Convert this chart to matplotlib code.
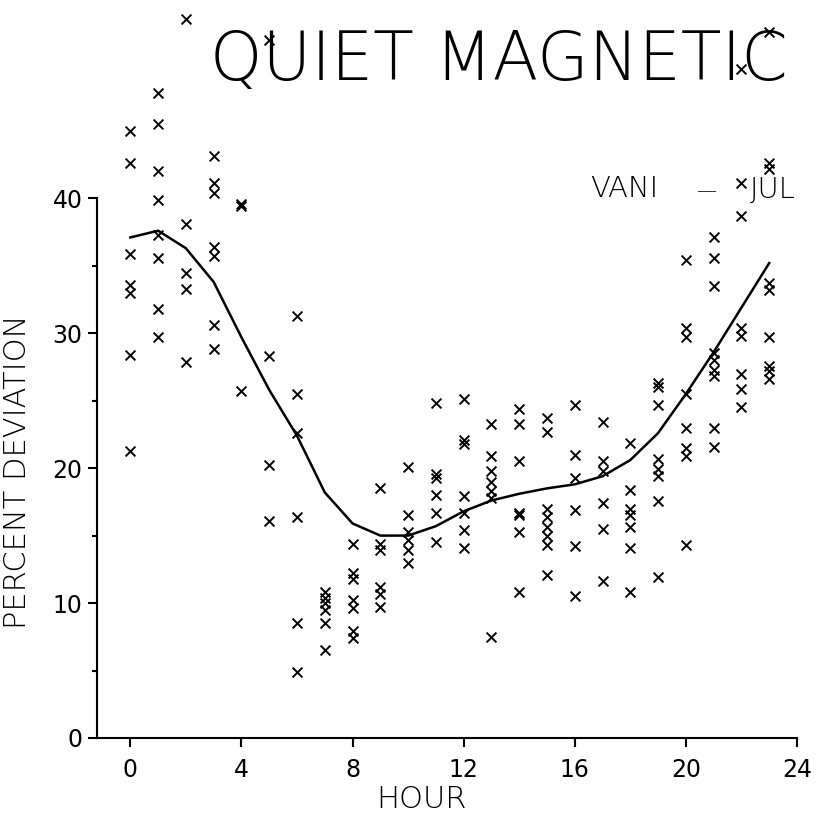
import matplotlib.pyplot as plt
from matplotlib.ticker import FixedLocator, MultipleLocator

# scatter values, one list per hour
pts = {
    0: [45.0, 42.6, 35.9, 33.6, 33.0, 28.4, 21.3],
    1: [47.8, 45.5, 42.0, 39.9, 37.3, 35.6, 31.8, 29.7],
    2: [53.3, 38.1, 34.5, 33.3, 27.9],
    3: [43.1, 41.1, 40.4, 36.4, 35.7, 30.6, 28.8],
    4: [39.6, 39.4, 25.7],
    5: [51.7, 28.3, 20.2, 16.1],
    6: [31.3, 25.5, 22.6, 16.4, 8.5, 4.9],
    7: [10.8, 10.4, 10.0, 9.5, 8.5, 6.5],
    8: [14.4, 12.2, 11.8, 10.2, 9.6, 7.9, 7.4],
    9: [18.5, 14.4, 13.9, 11.2, 10.7, 9.7],
    10: [20.1, 16.5, 15.3, 14.7, 13.9, 13.0],
    11: [24.8, 19.6, 19.3, 18.0, 16.7, 14.5],
    12: [25.1, 22.1, 21.8, 17.9, 16.7, 15.4, 14.1],
    13: [23.3, 20.9, 19.8, 19.0, 18.3, 17.8, 7.5],
    14: [24.4, 23.3, 20.5, 16.7, 16.5, 15.3, 10.8],
    15: [23.7, 22.7, 17.0, 16.4, 15.6, 15.0, 14.3, 12.1],
    16: [24.7, 21.0, 19.3, 16.9, 14.2, 10.5],
    17: [23.4, 20.5, 19.8, 17.4, 15.5, 11.6],
    18: [21.9, 18.4, 17.0, 16.5, 15.6, 14.1, 10.8],
    19: [26.3, 26.0, 24.7, 20.7, 19.9, 19.4, 17.6, 11.9],
    20: [35.4, 30.4, 29.7, 25.5, 23.0, 21.5, 20.9, 14.3],
    21: [37.1, 35.6, 33.5, 28.5, 28.0, 27.3, 26.8, 23.0, 21.6],
    22: [49.6, 41.1, 38.7, 30.4, 29.8, 27.0, 25.9, 24.5],
    23: [52.3, 42.6, 42.2, 33.7, 33.2, 29.7, 27.6, 27.2, 26.6],
}

hours = list(range(24))
mean_curve = [37.1, 37.6, 36.3, 33.8, 29.7, 25.8, 22.4, 18.2, 15.9, 15.0,
              15.0, 15.7, 16.8, 17.6, 18.1, 18.5, 18.8, 19.4, 20.6, 22.6,
              25.5, 28.6, 31.9, 35.2]

xs, ys = [], []
for h, vals in pts.items():
    for v in vals:
        xs.append(h)
        ys.append(v)

thin = dict(family='DejaVu Sans', fontweight='light')

fig = plt.figure(figsize=(8.29, 8.13), dpi=100)
ax = fig.add_axes([0.117, 0.0923, 0.8444, 0.9077])

ax.scatter(xs, ys, marker='x', s=50, color='black', linewidths=1.4, clip_on=False)
ax.plot(hours, mean_curve, color='black', lw=1.8)

ax.set_xlim(-1.2, 24)
ax.set_ylim(0, 54.7)
ax.spines['top'].set_visible(False)
ax.spines['right'].set_visible(False)
ax.spines['left'].set_bounds(0, 40)
for s in ['left', 'bottom']:
    ax.spines[s].set_linewidth(1.5)

ax.xaxis.set_major_locator(MultipleLocator(4))
ax.yaxis.set_major_locator(FixedLocator([0, 10, 20, 30, 40]))
ax.yaxis.set_minor_locator(FixedLocator([5, 15, 25, 35]))
ax.tick_params(which='major', direction='out', length=6.5, width=1.5, labelsize=17)
ax.tick_params(which='minor', direction='out', length=3.5, width=1.5)
ax.tick_params(axis='x', pad=8)
ax.tick_params(axis='y', pad=4)
for lbl in ax.get_xticklabels() + ax.get_yticklabels():
    lbl.set_family('DejaVu Sans')

ax.set_xlabel('HOUR', fontsize=22, **thin)
ax.set_ylabel('PERCENT DEVIATION', fontsize=22, **thin)
ax.xaxis.set_label_coords(0.463, -0.0637)
ax.yaxis.set_label_coords(-0.093, 0.3604)

fig.text(0.6013, 0.9016, 'QUIET MAGNETIC', fontsize=48, ha='center', va='baseline', **thin)
ax.text(16.55, 40.07, 'VANI', fontsize=21, ha='left', va='baseline', **thin)
ax.text(20.72, 40.07, '\u2014', fontsize=14.5, ha='center', va='baseline', **thin)
ax.text(22.3, 40.07, 'JUL', fontsize=21, ha='left', va='baseline', **thin)

fig.savefig('out.png', dpi=100)
